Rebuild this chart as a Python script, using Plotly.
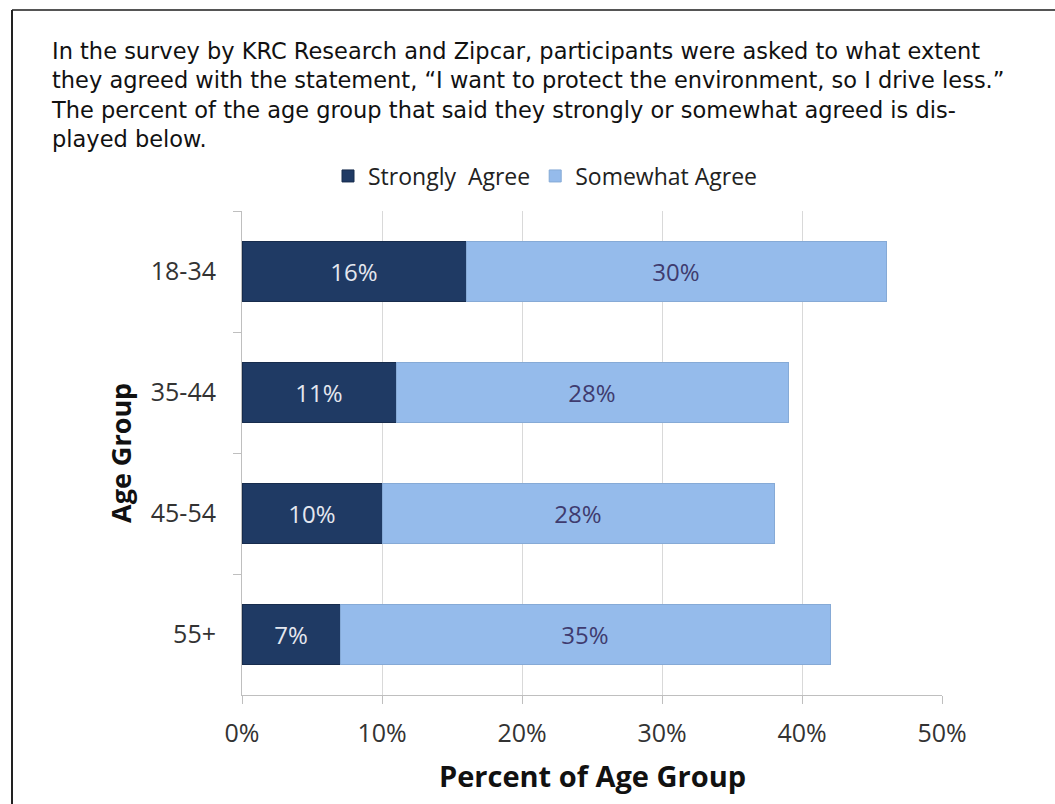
import plotly.graph_objects as go

age_groups = ["18-34", "35-44", "45-54", "55+"]
strongly_agree = [16, 11, 10, 7]
somewhat_agree = [30, 28, 28, 35]
x_ticks = [0, 10, 20, 30, 40, 50]
x_tick_labels = ["0%", "10%", "20%", "30%", "40%", "50%"]

intro = ("In the survey by KRC Research and Zipcar, participants were asked to what extent<br>"
         "they agreed with the statement, \u201cI want to protect the environment, so I drive less.\u201d<br>"
         "The percent of the age group that said they strongly or somewhat agreed is dis-<br>"
         "played below.")

W, H = 1055, 804
L, R, T, B = 242, 942, 211, 695
def px(x): return (x - L) / (R - L)
def py(y): return (B - y) / (B - T)

FONT = "Open Sans"
PFONT = "DejaVu Sans"

fig = go.Figure()
fig.add_trace(go.Bar(
    y=age_groups, x=strongly_agree, orientation="h", name="Strongly  Agree",
    marker=dict(color="#1f3a64", line=dict(color="#172c4d", width=1)),
    text=[f"{v}%" for v in strongly_agree], textposition="inside",
    insidetextanchor="middle", textfont=dict(color="#e4e7ef", size=24, family=FONT),
    hoverinfo="skip"))
fig.add_trace(go.Bar(
    y=age_groups, x=somewhat_agree, orientation="h", name="Somewhat Agree",
    marker=dict(color="#95bbeb", line=dict(color="#86aad6", width=1)),
    text=[f"{v}%" for v in somewhat_agree], textposition="inside",
    insidetextanchor="middle", textfont=dict(color="#3f3b6f", size=24, family=FONT),
    hoverinfo="skip"))

annotations = [
    dict(text=intro, xref="paper", yref="paper", x=px(49), y=py(36),
         xanchor="left", yanchor="top", align="left", showarrow=False,
         font=dict(size=22.5, family=PFONT, color="#111")),
    dict(text="<b>Age Group</b>", xref="paper", yref="paper", x=px(120), y=py(453),
         xanchor="center", yanchor="middle", textangle=-90, showarrow=False,
         font=dict(size=27, family=FONT, color="#111")),
    dict(text="<b>Percent of Age Group</b>", xref="paper", yref="paper", x=px(592), y=py(775),
         xanchor="center", yanchor="middle", showarrow=False,
         font=dict(size=29, family=FONT, color="#111")),
]

fig.update_layout(
    width=W, height=H, barmode="stack", bargap=0.5,
    paper_bgcolor="white", plot_bgcolor="white",
    margin=dict(l=L, r=W - R, t=T, b=H - B, autoexpand=False),
    font=dict(family=FONT, color="#222"),
    showlegend=True,
    legend=dict(orientation="h", x=px(545), y=py(176), xanchor="center", yanchor="middle",
                font=dict(size=23, family=FONT, color="#222"), traceorder="normal",
                itemwidth=30, bgcolor="rgba(0,0,0,0)"),
    xaxis=dict(range=[0, 50], tickvals=x_ticks, ticktext=x_tick_labels,
               showgrid=True, gridcolor="#d9d9d9", gridwidth=1,
               showline=True, linecolor="#bfbfbf", linewidth=1,
               ticks="outside", ticklen=8, tickcolor="#bfbfbf",
               ticklabelstandoff=8,
               tickfont=dict(size=25, color="#333", family=FONT), zeroline=False,
               fixedrange=True),
    yaxis=dict(categoryorder="array", categoryarray=age_groups, autorange="reversed",
               showline=True, linecolor="#bfbfbf", linewidth=1,
               ticks="outside", ticklen=8, tickcolor="#bfbfbf", tickson="boundaries",
               ticklabelstandoff=20,
               tickfont=dict(size=25, color="#333", family=FONT), showgrid=False,
               fixedrange=True),
    annotations=annotations,
    shapes=[
        dict(type="line", xref="paper", yref="paper", x0=px(12), x1=px(1055), y0=py(10), y1=py(10),
             line=dict(color="#555", width=2)),
        dict(type="line", xref="paper", yref="paper", x0=px(12), x1=px(12), y0=py(10), y1=py(804),
             line=dict(color="#222", width=2)),
    ],
)

fig.write_html("out.html", config={"displayModeBar": False},
               post_script="document.body.style.margin='0';document.body.style.overflow='hidden';")
